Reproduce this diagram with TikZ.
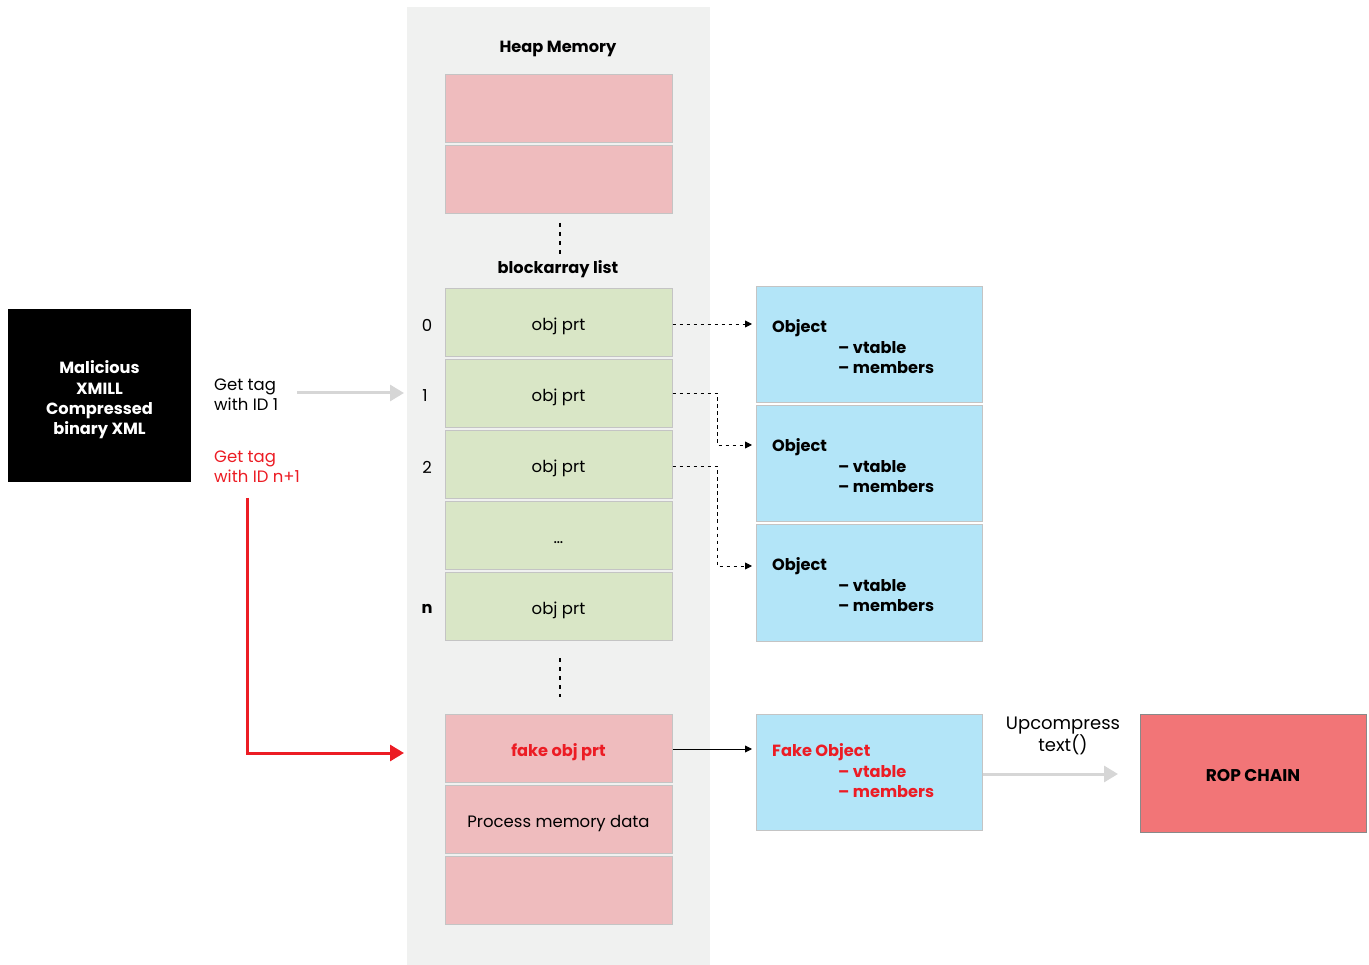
\documentclass[tikz,border=0pt]{standalone}
\usepackage{fontspec}
\setmainfont{Poppins}
\usetikzlibrary{calc,arrows.meta}
\usepackage{xcolor}

\definecolor{heapbg}{HTML}{F0F1F0}
\definecolor{pinkblk}{HTML}{EFBCBE}
\definecolor{greenblk}{HTML}{D9E6C6}
\definecolor{objblue}{HTML}{B3E5F8}
\definecolor{ropred}{HTML}{F27577}
\definecolor{warnred}{HTML}{EC1C24}
\definecolor{lightarr}{HTML}{D6D6D6}
\definecolor{edgegray}{HTML}{C4C4C4}

\tikzset{
  txt/.style={font=\fontsize{16.5}{20}\selectfont, inner sep=0pt},
  btxt/.style={txt, font=\fontsize{16.2}{20}\selectfont\bfseries},
  memblk/.style={draw=edgegray, line width=1pt, minimum width=227, minimum height=68, inner sep=0pt, txt, text height=16pt, text depth=0pt},
  objblk/.style={draw=edgegray, fill=objblue, line width=1pt, minimum width=226, minimum height=116, inner sep=0pt},
  ptr/.style={-{Triangle[length=7pt,width=7pt]}, line width=0.9pt, dash pattern=on 3.5pt off 3.5pt},
  fatarrow/.style={-{Triangle[length=14pt,width=16pt]}, line width=3pt, lightarr}
}

\begin{document}
\begin{tikzpicture}[x=1pt,y=-1pt]

  \useasboundingbox (0,0) rectangle (1369,965);

  % heap column
  \fill[heapbg] (407,7) rectangle (710,965);
  \node[btxt] (heap) at (558,49) {Heap Memory};

  \node[memblk, fill=pinkblk] (top1) at (558.5,109) {};
  \node[memblk, fill=pinkblk] (top2) at (558.5,180) {};
  \draw[line width=1.6pt, dash pattern=on 4pt off 5pt] (560,223) -- (560,255);
  \node[btxt] (blist) at (558,269) {blockarray list};

  % blockarray entries
  \foreach \yb/\lbl/\nm in {322.5/obj prt/b0, 393.5/obj prt/b1, 464.5/obj prt/b2, 535.5/\ldots/b3, 606.5/obj prt/bn}{
    \node[memblk, fill=greenblk] (\nm) at (558.5,\yb) {\lbl};
  }
  \node[txt] (i0) at (427,325) {0};
  \node[txt] (i1) at (425,396) {1};
  \node[txt] (i2) at (427,467) {2};
  \node[btxt] (in) at (427,609) {n};

  \draw[line width=1.6pt, dash pattern=on 4pt off 5pt] (560,658) -- (560,697);

  \node[memblk, fill=pinkblk, font=\fontsize{16.2}{20}\selectfont\bfseries, text=warnred] (fake) at (558.5,748) {fake obj prt};
  \node[memblk, fill=pinkblk] (proc) at (558.5,819.5) {Process memory data};
  \node[memblk, fill=pinkblk] (bot) at (558.5,890.5) {};

  % objects
  \foreach \yo/\nm in {345/o1, 464/o2, 583/o3}{
    \node[objblk] (\nm) at (869,\yo) {};
    \node[btxt, anchor=west] at (772,\yo-17) {Object};
    \node[btxt, anchor=west] at (838,\yo+3) {– vtable};
    \node[btxt, anchor=west] at (838,\yo+23) {– members};
  }
  \node[objblk] (ofake) at (869,772.5) {};
  \node[btxt, text=warnred, anchor=west] at (772,752) {Fake Object};
  \node[btxt, text=warnred, anchor=west] at (838,772) {– vtable};
  \node[btxt, text=warnred, anchor=west] at (838,792) {– members};

  \draw[ptr] (b0.east |- 0,324) -- (752,324);
  \draw[ptr] (b1.east |- 0,393) -- (717,393) |- (752,445);
  \draw[ptr] (b2.east |- 0,466) -- (717,466) |- (752,566);
  \draw[-{Triangle[length=7pt,width=7pt]}, line width=0.9pt] (fake.east |- 0,749) -- (752,749);

  % input
  \node[fill=black, minimum width=183, minimum height=173, inner sep=0pt] (mal) at (99.5,395.5) {};
  \node[btxt, text=white, align=center, font=\fontsize{16.2}{20.4}\selectfont\bfseries] at (99.5,400) {Malicious\\XMILL\\Compressed\\binary XML};

  \node[txt, align=left, anchor=west] (tag1) at (214,395) {Get tag\\with ID 1};
  \node[txt, align=left, anchor=west, text=warnred] (tagn) at (214,467) {Get tag\\with ID n+1};

  \draw[fatarrow] (297,393) -- (404,393);
  \draw[-{Triangle[length=14pt,width=16pt]}, line width=3pt, warnred] (247,498) |- (404,753);

  % rop
  \node[draw=edgegray!70!black, line width=1pt, fill=ropred, minimum width=226, minimum height=118, inner sep=0pt, btxt, font=\fontsize{17}{20}\selectfont\bfseries, text height=16pt, text depth=0pt] (rop) at (1253,773) {ROP CHAIN};
  \draw[fatarrow] (ofake.east |- 0,774) -- (1118,774);
  \node[txt, align=center, font=\fontsize{18}{21}\selectfont] (upc) at (1063,736) {Upcompress\\text()};

\end{tikzpicture}
\end{document}
